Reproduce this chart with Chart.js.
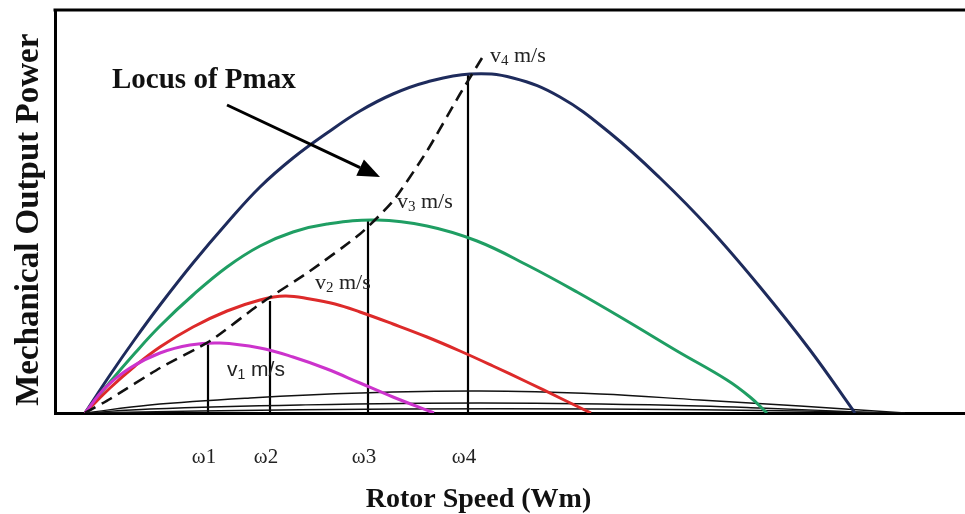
<!DOCTYPE html>
<html>
<head>
<meta charset="utf-8">
<script src="https://cdn.jsdelivr.net/npm/chart.js@4.4.1/dist/chart.umd.min.js"></script>
<style>
  html, body { margin: 0; padding: 0; background: #ffffff; }
  #wrap { width: 965px; height: 514px; }
</style>
</head>
<body>
<div id="wrap"><canvas id="c" width="965" height="514"></canvas></div>
<script>
// ---- Data (rotor speed in arbitrary units, power in arbitrary units) ----
const v4Speed = [0, 25, 50, 75, 108, 142, 175, 208, 242, 275, 308, 342, 385, 428, 475, 525, 575, 625, 675, 725, 770];
const v4Power = [0, 38, 74, 108, 150, 190, 226, 255, 280, 302, 319, 331, 339, 335, 316, 280, 235, 184, 126, 63, 0];

const v3Speed = [0, 25, 50, 75, 108, 142, 175, 208, 242, 292, 342, 392, 442, 492, 542, 592, 642, 665, 682];
const v3Power = [0, 31, 60, 87, 118, 146, 167, 181, 189, 193, 187, 172, 148, 121, 92, 62, 33, 16, 0];

const v2Speed = [0, 25, 50, 75, 108, 142, 175, 200, 225, 250, 275, 308, 342, 375, 408, 442, 475, 506];
const v2Power = [0, 25, 47, 66, 86, 102, 113, 117, 114, 109, 101, 89, 76, 62, 47, 31, 15, 0];

const v1Speed = [0, 20, 45, 75, 105, 135, 175, 208, 242, 275, 308, 349];
const v1Power = [0, 25, 45, 60, 68, 70, 65, 56, 44, 30, 16, 0];

const lowASpeed = [0, 65, 165, 275, 395, 515, 615, 715, 820];
const lowAPower = [0, 8, 15, 20, 22, 19, 13, 7, 0];
const lowBSpeed = [0, 65, 215, 395, 575, 675, 795];
const lowBPower = [0, 4, 8, 10, 8, 5, 0];
const lowCSpeed = [0, 115, 315, 515, 715, 815];
const lowCPower = [0, 2, 4, 4, 2, 0];

const locusSpeed = [0, 25, 75, 125, 175, 225, 275, 308, 342, 375, 397];
const locusPower = [0, 14, 45, 72, 109, 142, 179, 212, 262, 319, 355];

const omegaSpeed = [123, 185, 283, 383];
const omegaPower = [70, 112, 192, 340];
const tickLabels = ['\u03C91', '\u03C92', '\u03C93', '\u03C94'];
const speedLabels = ['1', '2', '3', '4'];

// ---- helpers ----
function pts(xs, ys) { return xs.map((x, i) => ({ x: x, y: ys[i] })); }
function curve(xs, ys, color, width, extra) {
  return Object.assign({
    data: pts(xs, ys), borderColor: color, borderWidth: width,
    pointRadius: 0, fill: false, tension: 0.4
  }, extra || {});
}

const datasets = [
  curve(locusSpeed, locusPower, '#111111', 2.6, { borderDash: [12, 7], tension: 0.2 }),
  curve(v1Speed, v1Power, '#cc33cc', 3),
  curve(v2Speed, v2Power, '#dd2a2a', 3),
  curve(v3Speed, v3Power, '#1f9e63', 3),
  curve(v4Speed, v4Power, '#1e2b5c', 3),
  curve(lowASpeed, lowAPower, '#111111', 1.4),
  curve(lowBSpeed, lowBPower, '#111111', 1.4),
  curve(lowCSpeed, lowCPower, '#111111', 1.4)
];
omegaSpeed.forEach((x, i) => {
  datasets.push({
    data: [{ x: x, y: 0 }, { x: x, y: omegaPower[i] }],
    borderColor: '#000', borderWidth: 2.2, pointRadius: 0, fill: false, tension: 0
  });
});

// annotation anchors in data units
const notes = {
  locus: { x: 27, y: 325 },
  arrowFrom: { x: 142, y: 308 },
  arrowTo: { x: 295, y: 236 },
  speed: [
    { x: 142, y: 37, sans: true },
    { x: 230, y: 124 },
    { x: 312, y: 205 },
    { x: 405, y: 351 }
  ]
};

const decor = {
  id: 'decor',
  afterDatasetsDraw(chart) {
    const c = chart.ctx, xs = chart.scales.x, ys = chart.scales.y, a = chart.chartArea;
    c.save();
    // top frame line
    c.strokeStyle = '#000'; c.lineWidth = 3;
    c.beginPath(); c.moveTo(a.left - 1.5, a.top); c.lineTo(a.right, a.top); c.stroke();

    // "Locus of Pmax"
    c.fillStyle = '#111';
    c.font = 'bold 29px "Liberation Serif"';
    c.textBaseline = 'alphabetic'; c.textAlign = 'left';
    c.fillText('Locus of Pmax', xs.getPixelForValue(notes.locus.x), ys.getPixelForValue(notes.locus.y));

    // arrow
    const x0 = xs.getPixelForValue(notes.arrowFrom.x), y0 = ys.getPixelForValue(notes.arrowFrom.y);
    const x1 = xs.getPixelForValue(notes.arrowTo.x), y1 = ys.getPixelForValue(notes.arrowTo.y);
    const ang = Math.atan2(y1 - y0, x1 - x0), L = 22, W = 9;
    const bx = x1 - L * Math.cos(ang), by = y1 - L * Math.sin(ang);
    c.strokeStyle = '#000'; c.lineWidth = 3;
    c.beginPath(); c.moveTo(x0, y0); c.lineTo(bx, by); c.stroke();
    c.fillStyle = '#000';
    c.beginPath();
    c.moveTo(x1, y1);
    c.lineTo(bx + W * Math.sin(ang), by - W * Math.cos(ang));
    c.lineTo(bx - W * Math.sin(ang), by + W * Math.cos(ang));
    c.closePath(); c.fill();

    // speed labels
    notes.speed.forEach((n, i) => {
      const fam = n.sans ? '"Liberation Sans"' : '"Liberation Serif"';
      let px = xs.getPixelForValue(n.x), py = ys.getPixelForValue(n.y);
      c.fillStyle = '#222';
      c.font = (n.sans ? '21px ' : '22px ') + fam;
      c.fillText('v', px, py);
      px += c.measureText('v').width;
      c.font = (n.sans ? '14px ' : '15px ') + fam;
      c.fillText(speedLabels[i], px, py + 3);
      px += c.measureText(speedLabels[i]).width;
      c.font = (n.sans ? '21px ' : '22px ') + fam;
      c.fillText(' m/s', px, py);
    });
    c.restore();
  }
};

new Chart(document.getElementById('c'), {
  type: 'line',
  data: { datasets: datasets },
  plugins: [decor],
  options: {
    responsive: false,
    animation: false,
    events: [],
    layout: { padding: { top: 10, right: 0, left: 0, bottom: 0 } },
    plugins: { legend: { display: false }, tooltip: { enabled: false } },
    scales: {
      x: {
        type: 'linear', min: -30, max: 880,
        grid: { display: false, drawTicks: false },
        border: { color: '#000', width: 3 },
        afterBuildTicks: (s) => { s.ticks = omegaSpeed.map(v => ({ value: v })); },
        ticks: {
          callback: (v, i) => tickLabels[i],
          font: { family: 'Liberation Serif', size: 21 },
          color: '#222', padding: 32, maxRotation: 0, autoSkip: false, labelOffset: -4
        },
        title: {
          display: true,
          text: 'Rotor Speed (Wm)\u00A0\u00A0\u00A0\u00A0\u00A0\u00A0\u00A0\u00A0\u00A0',
          font: { family: 'Liberation Serif', size: 28, weight: 'bold', lineHeight: 1 },
          color: '#111', padding: 0
        },
        afterFit: (s) => { s.height = 101; }
      },
      y: {
        min: 0, max: 403,
        grid: { display: false, drawTicks: false },
        border: { color: '#000', width: 3 },
        ticks: { display: false },
        title: {
          display: true,
          text: 'Mechanical Output Power\u00A0\u00A0',
          font: { family: 'Liberation Serif', size: 33, weight: 'bold', lineHeight: 1.2 },
          color: '#111', padding: { top: 10, bottom: 0 }
        },
        afterFit: (s) => { s.width = 55; }
      }
    }
  }
});
</script>
</body>
</html>
